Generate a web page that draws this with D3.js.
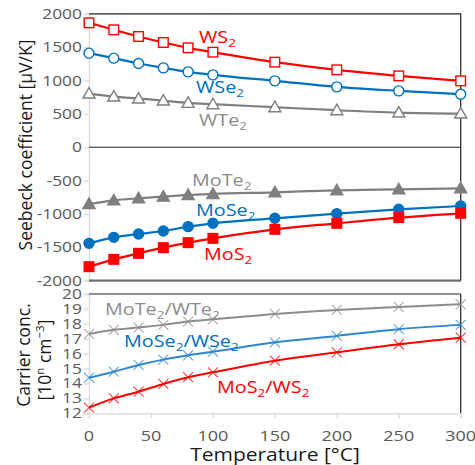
<!DOCTYPE html>
<html>
<head>
<meta charset="utf-8">
<script src="https://cdn.jsdelivr.net/npm/d3@7"></script>
<style>
body { margin: 0; background: #fff; }
svg text { font-family: "Open Sans", sans-serif; }
</style>
</head>
<body>
<div id="chart"></div>
<script>
// temperatures (°C)
var temps = [0, 20, 40, 60, 80, 100, 150, 200, 250, 300];

// Seebeck coefficient, µV/K
var ws2   = [1865, 1760, 1660, 1570, 1490, 1425, 1275, 1160, 1070, 995];
var wse2  = [1410, 1335, 1255, 1190, 1130, 1085, 995, 905, 845, 795];
var wte2  = [805, 760, 730, 700, 665, 645, 600, 555, 520, 505];
var mote2 = [-850, -795, -765, -740, -715, -700, -675, -645, -630, -615];
var mose2 = [-1440, -1350, -1300, -1255, -1190, -1140, -1065, -995, -930, -880];
var mos2  = [-1790, -1680, -1590, -1505, -1430, -1365, -1230, -1140, -1055, -990];

// carrier concentration exponent n
var teConc = [17.32, 17.6, 17.75, 17.93, 18.15, 18.3, 18.66, 18.93, 19.13, 19.31];
var seConc = [14.39, 14.79, 15.24, 15.6, 15.89, 16.13, 16.76, 17.19, 17.64, 17.93];
var sConc  = [12.38, 13.0, 13.45, 13.97, 14.42, 14.75, 15.53, 16.09, 16.63, 17.07];

var xTicks = [0, 50, 100, 150, 200, 250, 300];
var seebeckTicks = [-2000, -1500, -1000, -500, 0, 500, 1000, 1500, 2000];
var concTicks = [12, 13, 14, 15, 16, 17, 18, 19, 20];

var red = "#ff0000", blue = "#0070c0", gray = "#7f7f7f";
var sx = 1.2; // glyphs in the picture are drawn wide

var svg = d3.select("#chart").append("svg")
    .attr("width", 475).attr("height", 465);

var x = d3.scaleLinear().domain([0, 300]).range([89, 460.7]);
var yTop = d3.scaleLinear().domain([-2000, 2000]).range([280.7, 13.8]);
var yBot = d3.scaleLinear().domain([12, 20]).range([413.3, 294]);

// text helper: parts = [[string, "n"|"sub"|"sup"], ...]
function label(x0, y0, parts, color, size, anchor) {
    var g = svg.append("g")
        .attr("transform", "translate(" + x0 + "," + y0 + ") scale(" + sx + ",1)");
    var t = g.append("text")
        .attr("fill", color)
        .attr("font-size", size)
        .attr("text-anchor", anchor || "start");
    parts.forEach(function(p) {
        var s = t.append("tspan").text(p[0]);
        if (p[1] == "sub") s.attr("font-size", size * 0.68).attr("dy", size * 0.25);
        if (p[1] == "sup") s.attr("font-size", size * 0.68).attr("dy", -size * 0.4);
    });
    return t;
}

function leftAxis(scale, ticks, fmt) {
    var ax = d3.axisLeft(scale).tickValues(ticks).tickSize(5).tickFormat("");
    var g = svg.append("g").attr("transform", "translate(" + x(0) + ",0)").call(ax);
    g.select(".domain").attr("stroke", "#d9d9d9").attr("stroke-width", 1.3);
    g.selectAll(".tick line").attr("stroke", "#d9d9d9").attr("stroke-width", 1.3);
    ticks.forEach(function(v) {
        label(82, scale(v) + 5, [[fmt(v), "n"]], "#595959", 14.5, "end");
    });
}

// ---- top panel frame
leftAxis(yTop, seebeckTicks, function(v) { return v < 0 ? "-" + Math.abs(v) : String(v); });
svg.append("line").attr("x1", x(0)).attr("x2", x(300)).attr("y1", yTop(2000)).attr("y2", yTop(2000))
    .attr("stroke", "#222").attr("stroke-width", 1.2);
svg.append("line").attr("x1", x(300)).attr("x2", x(300)).attr("y1", yTop(2000)).attr("y2", yTop(-2000))
    .attr("stroke", "#222").attr("stroke-width", 1.2);
svg.append("line").attr("x1", x(0)).attr("x2", x(300)).attr("y1", yTop(0)).attr("y2", yTop(0))
    .attr("stroke", "#222").attr("stroke-width", 1.2);
svg.append("line").attr("x1", x(0)).attr("x2", x(300)).attr("y1", yTop(-2000)).attr("y2", yTop(-2000))
    .attr("stroke", "#6f6f6f").attr("stroke-width", 2.2);

// ---- bottom panel frame
leftAxis(yBot, concTicks, String);
svg.append("line").attr("x1", x(0)).attr("x2", x(300)).attr("y1", yBot(20)).attr("y2", yBot(20))
    .attr("stroke", "#222").attr("stroke-width", 1.2);
svg.append("line").attr("x1", x(300)).attr("x2", x(300)).attr("y1", yBot(20)).attr("y2", yBot(12))
    .attr("stroke", "#222").attr("stroke-width", 1.2);
var xa = svg.append("g").attr("transform", "translate(0," + yBot(12) + ")")
    .call(d3.axisBottom(x).tickValues(xTicks).tickSize(5).tickFormat(""));
xa.select(".domain").attr("stroke", "#d9d9d9").attr("stroke-width", 1.3);
xa.selectAll(".tick line").attr("stroke", "#d9d9d9").attr("stroke-width", 1.3);
xTicks.forEach(function(v) {
    label(x(v), 440.5, [[String(v), "n"]], "#595959", 15, "middle");
});

// ---- series
function series(vals, scale, color, marker, width) {
    var pts = temps.map(function(t, i) { return [x(t), scale(vals[i])]; });
    svg.append("path")
        .attr("d", d3.line().curve(d3.curveMonotoneX)(pts))
        .attr("fill", "none").attr("stroke", color).attr("stroke-width", width || 2.2);
    var g = svg.append("g");
    pts.forEach(function(p) {
        if (marker == "sqOpen" || marker == "sq") {
            g.append("rect").attr("x", p[0] - 4.8).attr("y", p[1] - 4.8)
                .attr("width", 9.6).attr("height", 9.6)
                .attr("fill", marker == "sq" ? color : "#fff")
                .attr("stroke", color).attr("stroke-width", 1.4);
        } else if (marker == "ciOpen" || marker == "ci") {
            g.append("circle").attr("cx", p[0]).attr("cy", p[1]).attr("r", 5)
                .attr("fill", marker == "ci" ? color : "#fff")
                .attr("stroke", color).attr("stroke-width", 1.4);
        } else if (marker == "triOpen" || marker == "tri") {
            g.append("path")
                .attr("d", "M" + p[0] + "," + (p[1] - 6) + "L" + (p[0] + 6) + "," + (p[1] + 4.5) +
                    "L" + (p[0] - 6) + "," + (p[1] + 4.5) + "Z")
                .attr("fill", marker == "tri" ? color : "#fff")
                .attr("stroke", color).attr("stroke-width", 1.4);
        } else if (marker == "x") {
            g.append("path")
                .attr("d", "M" + (p[0] - 5) + "," + (p[1] - 5) + "L" + (p[0] + 5) + "," + (p[1] + 5) +
                    "M" + (p[0] - 5) + "," + (p[1] + 5) + "L" + (p[0] + 5) + "," + (p[1] - 5))
                .attr("stroke", color).attr("stroke-width", 1.1).attr("opacity", 0.75);
        }
    });
}

series(wte2, yTop, gray, "triOpen");
series(wse2, yTop, blue, "ciOpen");
series(ws2, yTop, red, "sqOpen");
series(mote2, yTop, gray, "tri");
series(mose2, yTop, blue, "ci");
series(mos2, yTop, red, "sq");

series(teConc, yBot, "#8c8c8c", "x", 2);
series(seConc, yBot, "#2f86d2", "x", 2);
series(sConc, yBot, red, "x", 2);

// ---- series labels
label(199, 43, [["WS", "n"], ["2", "sub"]], red, 16.5);
label(196, 93, [["WSe", "n"], ["2", "sub"]], blue, 16.5);
label(199, 126, [["WTe", "n"], ["2", "sub"]], "#8c8c8c", 16.5);
label(192, 186, [["MoTe", "n"], ["2", "sub"]], "#8c8c8c", 16.5);
label(196, 216, [["MoSe", "n"], ["2", "sub"]], blue, 16.5);
label(204, 260, [["MoS", "n"], ["2", "sub"]], red, 16.5);

function pair(x0, y0, a, b, color) {
    var t = label(x0, y0, [], color, 16.5);
    t.append("tspan").text(a);
    t.append("tspan").text("2").attr("font-size", 11.2).attr("dy", 4);
    t.append("tspan").text("/" + b).attr("dy", -4);
    t.append("tspan").text("2").attr("font-size", 11.2).attr("dy", 4);
}
pair(105, 314.5, "MoTe", "WTe", "#8c8c8c");
pair(124, 347, "MoSe", "WSe", blue);
pair(217, 393, "MoS", "WS", red);

// ---- axis titles
svg.append("text").attr("transform", "translate(32,145) rotate(-90)")
    .attr("text-anchor", "middle").attr("font-size", 17.5).attr("fill", "#1a1a1a")
    .text("Seebeck coefficient [µV/K]");

var ct = svg.append("text").attr("transform", "translate(30,355) rotate(-90)")
    .attr("text-anchor", "middle").attr("font-size", 17.5).attr("fill", "#1a1a1a");
ct.append("tspan").text("Carrier conc.");
var ct2 = svg.append("text").attr("transform", "translate(51,360) rotate(-90)")
    .attr("text-anchor", "middle").attr("font-size", 17.5).attr("fill", "#1a1a1a");
ct2.append("tspan").text("[10");
ct2.append("tspan").text("n").attr("font-size", 11.5).attr("dy", -7);
ct2.append("tspan").text(" cm").attr("dy", 7);
ct2.append("tspan").text("−3").attr("font-size", 11.5).attr("dy", -7);
ct2.append("tspan").text("]").attr("dy", 7);

label(275, 461, [["Temperature [°C]", "n"]], "#1a1a1a", 17.5, "middle");
</script>
</body>
</html>
